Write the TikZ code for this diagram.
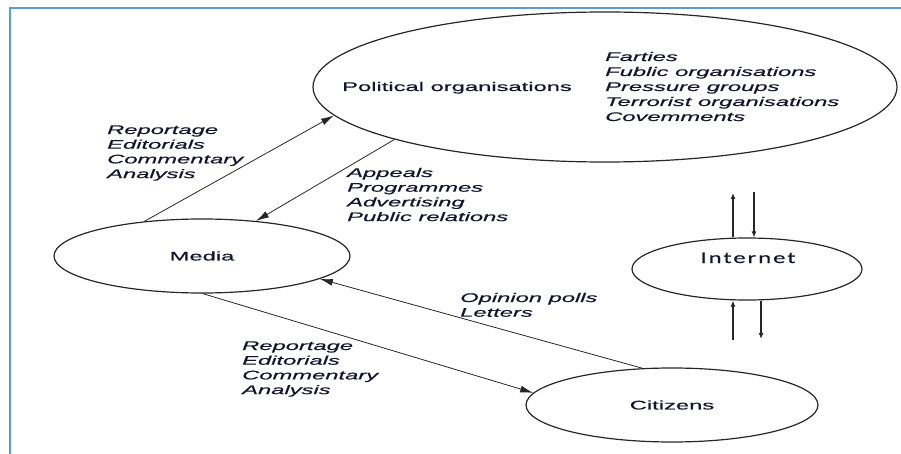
\documentclass[tikz,border=0pt]{standalone}
\usepackage{fontspec}
\newfontfamily\diagfont[FakeStretch=1.9,FakeBold=0.6]{Liberation Sans}
\newfontfamily\netfont[FakeStretch=1.55,LetterSpace=12,FakeBold=0.5]{Carlito}
\usetikzlibrary{shapes.geometric,arrows.meta}
\definecolor{frameblue}{HTML}{5B9BD5}
\definecolor{ink}{HTML}{141432}
\newcommand{\labelstack}[1]{\begin{tabular}[t]{@{}l@{}}#1\end{tabular}}
\begin{document}
\begin{tikzpicture}[x=1pt,y=-1pt,
  bubble/.style={draw=black!85, line width=1.2pt, ellipse, inner sep=0pt},
  flow/.style={draw=black!85, line width=0.8pt, -{Latex[length=13pt,width=7pt]}},
  netflow/.style={draw=black!85, line width=1.2pt, -{Latex[length=6pt,width=5pt]}},
  title/.style={font=\diagfont\fontsize{12.5}{14.7}\selectfont, text=ink, inner sep=0pt},
  lbl/.style={font=\diagfont\itshape\fontsize{12.5}{14.7}\selectfont, text=ink, inner sep=0pt, anchor=base west},
  listlbl/.style={font=\diagfont\itshape\fontsize{12.5}{15}\selectfont, text=ink, inner sep=0pt, anchor=base west},
]
\useasboundingbox (0,0) rectangle (901,454);
\draw[frameblue, line width=2pt] (10,454) -- (10,8) -- (901,8);

% bubbles
\node[bubble, minimum width=584pt, minimum height=150pt] (pol) at (605,87) {};
\node[bubble, minimum width=296pt, minimum height=74pt, title] (media) at (202,256) {Media};
\node[bubble, minimum width=230pt, minimum height=62pt] (net) at (747,269) {};
\node[bubble, minimum width=292pt, minimum height=74pt, title] (cit) at (672,405) {Citizens};

% texts in bubbles
\node[title, anchor=base west] (poltxt) at (342,91) {Political organisations};
\node[listlbl] (pollist) at (605,61) {\labelstack{Farties\\Fublic organisations\\Pressure groups\\Terrorist organisations\\Covemments}};
\node[font=\netfont\fontsize{16}{18}\selectfont, text=ink, inner sep=0pt, anchor=base] (nettxt) at (748,263) {Internet};

% connector labels
\node[lbl] (repA) at (107,134) {\labelstack{Reportage\\Editorials\\Commentary\\Analysis}};
\node[lbl] (appeals) at (347,177) {\labelstack{Appeals\\Programmes\\Advertising\\Public relations}};
\node[lbl] (opinion) at (460,302) {\labelstack{Opinion polls\\Letters}};
\node[lbl] (repB) at (242,350) {\labelstack{Reportage\\Editorials\\Commentary\\Analysis}};

% connectors
\draw[flow] (media.149) -- (pol.186);
\draw[flow] (pol.194) -- (media.33);
\draw[flow] (cit.129) -- (media.-11.5);
\draw[flow] (media.-89) -- (cit.175);

% internet arrows
\coordinate (t1) at (733,193);
\coordinate (t2) at (754,192);
\coordinate (b1) at (733,340);
\coordinate (b2) at (761,339);
\draw[netflow] (t1 |- net.north) -- (t1);
\draw[netflow] (t2) -- (t2 |- net.north);
\draw[netflow] (b1) -- (b1 |- net.south);
\draw[netflow] (b2 |- net.south) -- (b2);
\end{tikzpicture}
\end{document}
